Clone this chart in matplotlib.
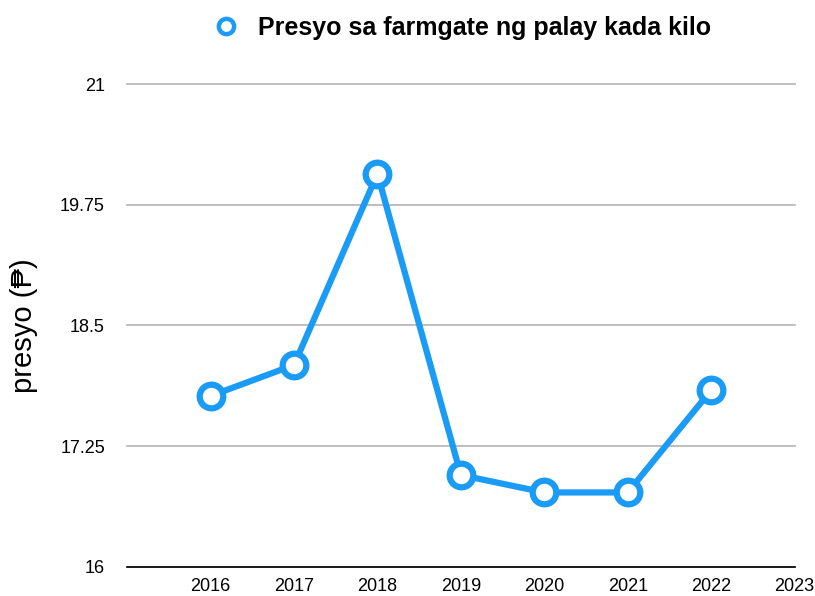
import matplotlib.pyplot as plt

plt.rcParams['font.family'] = ['Liberation Sans', 'DejaVu Sans']

years = [2016, 2017, 2018, 2019, 2020, 2021, 2022]
presyo = [17.77, 18.09, 20.07, 16.95, 16.77, 16.77, 17.83]
xticks = [2016, 2017, 2018, 2019, 2020, 2021, 2022, 2023]
yticks = [16, 17.25, 18.5, 19.75, 21]

blue = "#1a9bf5"

fig = plt.figure(figsize=(8.15, 5.96), dpi=100)
ax = fig.add_axes([0.156, 0.049, 0.819, 0.810])

ax.plot(years, presyo, color=blue, linewidth=4.5, marker="o", markersize=17,
        markerfacecolor="white", markeredgecolor=blue, markeredgewidth=4.5,
        label="Presyo sa farmgate ng palay kada kilo", zorder=3)

ax.set_xlim(2015, 2023)
ax.set_ylim(16, 21)
ax.set_xticks(xticks)
ax.set_xticklabels([str(x) for x in xticks], fontsize=13)
ax.set_yticks(yticks)
ax.set_yticklabels(["%g" % y for y in yticks], fontsize=13)
ax.tick_params(length=0, pad=16)
ax.tick_params(axis="x", pad=8)
ax.grid(axis="y", color="#b3b3b3", linewidth=1.2, clip_on=False)
for s in ["top", "right", "left"]:
    ax.spines[s].set_visible(False)
ax.spines["bottom"].set_color("black")
ax.spines["bottom"].set_linewidth(1.2)
ax.set_ylabel("presyo (₱)", fontsize=21, labelpad=16)

leg = fig.legend(loc="center", bbox_to_anchor=(0.568, 0.953), frameon=False,
                 prop={"weight": "bold", "size": 18}, handlelength=0.9,
                 handletextpad=0.8)
line = leg.get_lines()[0]
line.set_linewidth(0)
line.set_markersize(11)
line.set_markeredgewidth(3.2)

plt.savefig("out.png")
